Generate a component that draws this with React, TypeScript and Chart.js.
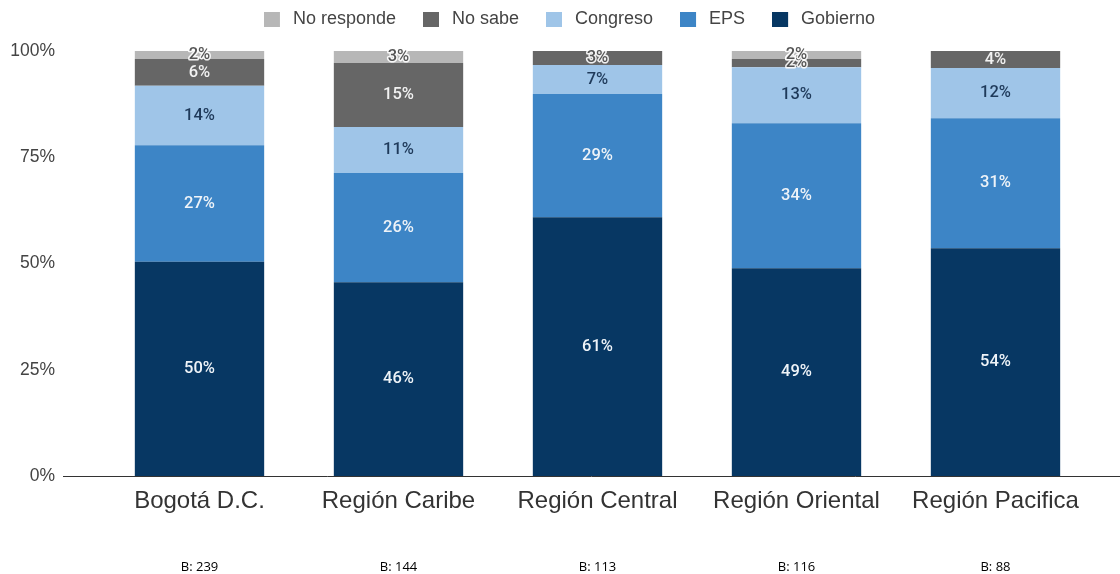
import React, { useEffect, useRef } from "react";
import { Chart, registerables } from "chart.js";

Chart.register(...registerables);

const categories = ["Bogotá D.C.", "Región Caribe", "Región Central", "Región Oriental", "Región Pacifica"];
const bases = ["B: 239", "B: 144", "B: 113", "B: 116", "B: 88"];
const gobierno = [50.4, 45.6, 60.9, 48.9, 53.6];
const eps = [27.4, 25.7, 29.0, 34.1, 30.6];
const congreso = [14.0, 10.8, 6.8, 13.2, 11.8];
const noSabe = [6.3, 15.1, 3.3, 1.9, 4.0];
const noResponde = [1.9, 2.8, 0, 1.9, 0];
const yTicks = [0, 25, 50, 75, 100];

const SANS = '"Liberation Sans", Arial, sans-serif';
const LEGEND_PAD = 27;

const labelColors = ["#eef3f8", "#eef3f8", "#1f3a5a", "#f2f2f2", "#444444"];

function makeSwatch(color: string) {
  const c = document.createElement("canvas");
  c.width = 20;
  c.height = 15;
  const cx = c.getContext("2d");
  if (cx) {
    cx.fillStyle = color;
    cx.fillRect(0, 0, 16, 15);
  }
  return c;
}

export default function App() {
  const ref = useRef<HTMLCanvasElement | null>(null);

  useEffect(() => {
    if (!ref.current) return;

    const legendHeight = {
      id: "legendHeight",
      afterInit(chart: any) {
        const lg = chart.legend;
        if (!lg) return;
        const orig = lg.fit.bind(lg);
        lg.fit = () => {
          orig();
          lg.height = 51;
        };
      },
      afterLayout(chart: any) {
        const lg = chart.legend;
        if (!lg) return;
        const dy = -lg.top - 17;
        const dx = 22;
        lg.top += dy;
        lg.bottom += dy;
        lg.left += dx;
        lg.right += dx;
      },
    };

    const baseline = {
      id: "baseline",
      beforeDatasetsDraw(chart: any) {
        const ctx = chart.ctx;
        const y = Math.round(chart.scales.y.getPixelForValue(0)) + 0.5;
        ctx.save();
        ctx.strokeStyle = "#333333";
        ctx.lineWidth = 1;
        ctx.beginPath();
        ctx.moveTo(63, y);
        ctx.lineTo(1120, y);
        ctx.stroke();
        ctx.restore();
      },
    };

    const valueLabels = {
      id: "valueLabels",
      afterDatasetsDraw(chart: any) {
        const ctx = chart.ctx;
        ctx.save();
        ctx.font = '500 16.5px Roboto, "Liberation Sans", sans-serif';
        ctx.textAlign = "center";
        ctx.textBaseline = "middle";
        chart.data.datasets.forEach((ds: any, di: number) => {
          const meta = chart.getDatasetMeta(di);
          meta.data.forEach((bar: any, i: number) => {
            const v = ds.data[i];
            if (!v) return;
            const txt = Math.round(v) + "%";
            const cy = (bar.y + bar.base) / 2;
            if (v < 3.5) {
              ctx.lineWidth = 3;
              ctx.strokeStyle = "rgba(255,255,255,0.9)";
              ctx.lineJoin = "round";
              ctx.strokeText(txt, bar.x, cy);
              ctx.fillStyle = "#555555";
              ctx.fillText(txt, bar.x, cy);
            } else {
              ctx.fillStyle = labelColors[di];
              ctx.fillText(txt, bar.x, cy);
            }
          });
        });
        ctx.restore();
      },
    };

    const baseLabels = {
      id: "baseLabels",
      afterDraw(chart: any) {
        const ctx = chart.ctx;
        const xs = chart.scales.x;
        ctx.save();
        ctx.font = '13px "Open Sans", "DejaVu Sans", sans-serif';
        ctx.fillStyle = "#000000";
        ctx.textAlign = "center";
        ctx.textBaseline = "middle";
        bases.forEach((b, i) => {
          ctx.fillText(b, xs.getPixelForValue(i), 567);
        });
        ctx.restore();
      },
    };

    const chart = new Chart(ref.current, {
      type: "bar",
      data: {
        labels: categories,
        datasets: [
          { label: "Gobierno", data: gobierno, backgroundColor: "#073763" },
          { label: "EPS", data: eps, backgroundColor: "#3d85c6" },
          { label: "Congreso", data: congreso, backgroundColor: "#9fc5e8" },
          { label: "No sabe", data: noSabe, backgroundColor: "#666666" },
          { label: "No responde", data: noResponde, backgroundColor: "#b7b7b7" },
        ],
      },
      options: {
        responsive: false,
        animation: false,
        maintainAspectRatio: false,
        datasets: {
          bar: { categoryPercentage: 1, barPercentage: 0.65, borderWidth: 0 },
        },
        layout: { padding: { top: 0, right: 25, bottom: 0, left: 0 } },
        plugins: {
          tooltip: { enabled: false },
          legend: {
            position: "top",
            reverse: true,
            labels: {
              usePointStyle: true,
              pointStyleWidth: 20,
              boxHeight: 15,
              padding: LEGEND_PAD,
              color: "#444444",
              font: { size: 18, family: SANS },
              generateLabels(chart: any) {
                const items = (Chart as any).defaults.plugins.legend.labels.generateLabels(chart);
                return items.map((it: any) => ({ ...it, pointStyle: makeSwatch(it.fillStyle as string) }));
              },
            },
          },
        },
        scales: {
          x: {
            stacked: true,
            grid: { display: false, drawTicks: false },
            border: { display: false },
            ticks: {
              color: "#333333",
              padding: 11,
              maxRotation: 0,
              autoSkip: false,
              font: { size: 24, family: SANS },
            },
            afterFit(scale: any) {
              scale.height = 98;
            },
          },
          y: {
            stacked: true,
            min: 0,
            max: 100,
            afterBuildTicks(scale: any) {
              scale.ticks = yTicks.map((v) => ({ value: v }));
            },
            grid: { display: false, drawTicks: false },
            border: { display: false },
            ticks: {
              color: "#444444",
              padding: 45,
              font: { size: 17.5, family: SANS },
              callback: (v: any) => v + "%",
            },
            afterFit(scale: any) {
              scale.width = 100;
              scale.paddingTop = 0;
              scale.paddingBottom = 0;
            },
          },
        },
      },
      plugins: [legendHeight, baseline, valueLabels, baseLabels],
    });

    return () => chart.destroy();
  }, []);

  return (
    <div style={{ position: "absolute", left: 0, top: 0, width: 1120, height: 574, background: "#ffffff" }}>
      <canvas ref={ref} width={1120} height={574} style={{ width: 1120, height: 574, display: "block" }} />
    </div>
  );
}
